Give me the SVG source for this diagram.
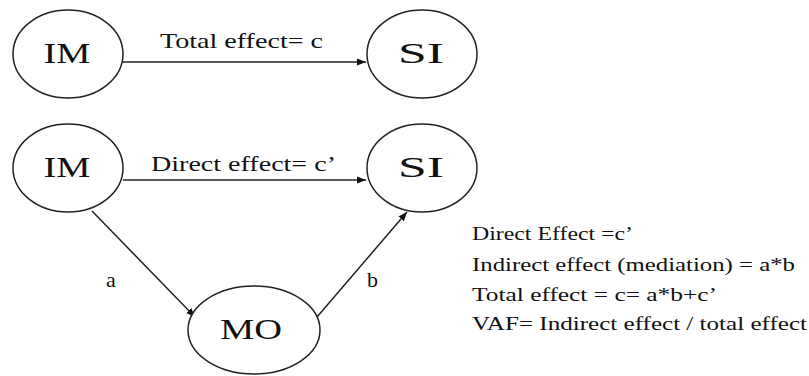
<svg xmlns="http://www.w3.org/2000/svg" width="809" height="376" viewBox="0 0 809 376">
<defs>
<style>
.node{fill:#fff;stroke:#222;stroke-width:1.5}
.t{font-family:"Liberation Serif","Times New Roman",serif;fill:#111}
.big{font-size:30px}
.lbl{font-size:22px}
.side{font-size:19px}
.edge{stroke:#222;stroke-width:1.5;fill:none;marker-end:url(#ah)}
</style>
<marker id="ah" viewBox="0 0 10 10" refX="10" refY="5" markerWidth="6" markerHeight="6" markerUnits="strokeWidth" orient="auto">
<path d="M0,1 L10,5 L0,9 z" fill="#111"/>
</marker>
</defs>
<rect width="809" height="376" fill="#fff"/>
<g id="edges">
<line class="edge" x1="123" y1="62" x2="366" y2="62"/>
<line class="edge" x1="123" y1="180" x2="366" y2="180"/>
<line class="edge" x1="92" y1="211" x2="195" y2="317"/>
<line class="edge" x1="317" y1="317" x2="407" y2="212"/>
<text class="t lbl" x="160" y="48" textLength="163" lengthAdjust="spacingAndGlyphs">Total effect= c</text>
<text class="t lbl" x="151" y="171" textLength="185" lengthAdjust="spacingAndGlyphs">Direct effect= c’</text>
<text class="t lbl" x="106" y="287">a</text>
<text class="t lbl" x="367" y="287">b</text>
</g>
<g id="im1"><ellipse class="node" cx="68" cy="54" rx="55" ry="44"/><text class="t big" x="67" y="63" text-anchor="middle" textLength="47" lengthAdjust="spacingAndGlyphs">IM</text></g>
<g id="si1"><ellipse class="node" cx="422" cy="54" rx="55" ry="44"/><text class="t big" x="421" y="63" text-anchor="middle" textLength="46" lengthAdjust="spacingAndGlyphs">SI</text></g>
<g id="im2"><ellipse class="node" cx="68" cy="168" rx="55" ry="44"/><text class="t big" x="67" y="177" text-anchor="middle" textLength="47" lengthAdjust="spacingAndGlyphs">IM</text></g>
<g id="si2"><ellipse class="node" cx="422" cy="168" rx="55" ry="44"/><text class="t big" x="421" y="177" text-anchor="middle" textLength="46" lengthAdjust="spacingAndGlyphs">SI</text></g>
<g id="mo"><ellipse class="node" cx="254" cy="330" rx="66" ry="44"/><text class="t big" x="251" y="339" text-anchor="middle" textLength="62" lengthAdjust="spacingAndGlyphs">MO</text></g>
<g id="notes">
<text class="t side" x="472" y="240" textLength="161" lengthAdjust="spacingAndGlyphs">Direct Effect =c’</text>
<text class="t side" x="472" y="271" textLength="323" lengthAdjust="spacingAndGlyphs">Indirect effect (mediation) = a*b</text>
<text class="t side" x="472" y="301" textLength="245" lengthAdjust="spacingAndGlyphs">Total effect = c= a*b+c’</text>
<text class="t side" x="472" y="330" textLength="335" lengthAdjust="spacingAndGlyphs">VAF= Indirect effect / total effect</text>
</g>
</svg>
